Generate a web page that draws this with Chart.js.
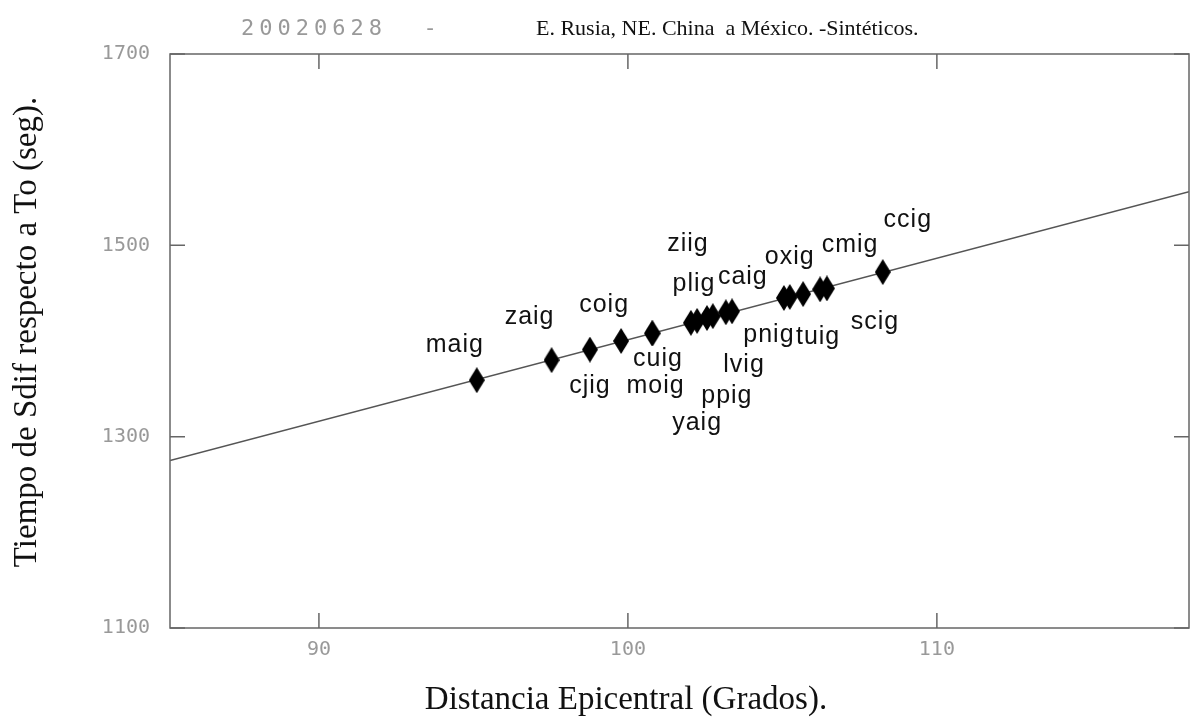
<!DOCTYPE html>
<html>
<head>
<meta charset="utf-8">
<script src="https://cdn.jsdelivr.net/npm/chart.js@4.4.1/dist/chart.umd.min.js"></script>
<style>
  html, body { margin: 0; padding: 0; background: #fff; }
  #wrap { width: 1191px; height: 721px; }
</style>
</head>
<body>
<div id="wrap"><canvas id="sdifChart" width="1191" height="721"></canvas></div>
<script>
// estaciones, distancia epicentral (grados) y tiempo Sdif (seg)
const stations = ["maig","zaig","cjig","coig","cuig","moig","ziig","yaig","plig","ppig","caig","lvig","pnig","oxig","tuig","cmig","scig","ccig"];
const distances = [95.11,97.53,98.77,99.78,100.78,100.80,102.04,102.24,102.56,102.75,103.17,103.37,105.05,105.24,105.67,106.22,106.44,108.25];
const times = [1359,1380,1391,1400,1408,1408,1419,1421,1424,1426,1430,1431,1445,1446,1449,1454,1455,1472];

// recta de ajuste
const fitDist = [85.18, 118.16];
const fitTime = [1275, 1556];

const xTicks = [90, 100, 110];
const yTicks = [1100, 1300, 1500, 1700];

// desplazamiento de cada etiqueta respecto a su punto (px)
const labelOffsets = [[-22,-35],[-22,-43],[0,36],[-17,-36],[6,26],[3,53],[-3,-79],[0,102],[-13,-34],[14,80],[17,-35],[12,54],[-15,37],[0,-40],[15,43],[30,-44],[48,34],[25,-52]];

const grayFont = '"DejaVu Sans Mono", monospace';
const serifFont = '"Liberation Serif", "Times New Roman", serif';

// rombo alargado como en el original
function makeDiamond() {
  const c = document.createElement('canvas');
  c.width = 16; c.height = 26;
  const g = c.getContext('2d');
  g.fillStyle = '#000';
  g.beginPath();
  g.moveTo(8, 0); g.lineTo(16, 13); g.lineTo(8, 26); g.lineTo(0, 13);
  g.closePath(); g.fill();
  return c;
}

const frame = {
  id: 'frame',
  afterDraw(chart) {
    const ctx = chart.ctx, a = chart.chartArea;
    const xs = chart.scales.x, ys = chart.scales.y;
    ctx.save();
    ctx.strokeStyle = '#666';
    ctx.lineWidth = 1.5;
    ctx.strokeRect(a.left, a.top, a.right - a.left, a.bottom - a.top);
    ctx.beginPath();
    xTicks.forEach(v => {
      const px = xs.getPixelForValue(v);
      ctx.moveTo(px, a.bottom); ctx.lineTo(px, a.bottom - 15);
      ctx.moveTo(px, a.top); ctx.lineTo(px, a.top + 15);
    });
    yTicks.forEach(v => {
      const py = ys.getPixelForValue(v);
      ctx.moveTo(a.left, py); ctx.lineTo(a.left + 15, py);
      ctx.moveTo(a.right, py); ctx.lineTo(a.right - 15, py);
    });
    ctx.stroke();

    // titulo en dos partes
    ctx.textBaseline = 'middle';
    ctx.textAlign = 'left';
    ctx.fillStyle = '#999';
    ctx.font = '22px ' + grayFont;
    ctx.letterSpacing = '5px';
    ctx.fillText('20020628  -', 241, 29);
    ctx.letterSpacing = '0px';
    ctx.fillStyle = '#111';
    ctx.font = '22px ' + serifFont;
    ctx.fillText('E. Rusia, NE. China  a México. -Sintéticos.', 536, 29);

    // titulos de los ejes (desplazados como en el original)
    ctx.textAlign = 'center';
    ctx.font = '33px ' + serifFont;
    ctx.fillText('Distancia Epicentral (Grados).', 626, 700);
    ctx.translate(27, 332);
    ctx.rotate(-Math.PI / 2);
    ctx.fillText('Tiempo de Sdif respecto a To (seg).', 0, 0);
    ctx.restore();
  }
};

const stationLabels = {
  id: 'stationLabels',
  afterDatasetsDraw(chart) {
    const ctx = chart.ctx;
    const xs = chart.scales.x, ys = chart.scales.y;
    ctx.save();
    ctx.font = '25px "Liberation Sans", Arial, sans-serif';
    ctx.letterSpacing = '1px';
    ctx.fillStyle = '#111';
    ctx.textAlign = 'center';
    ctx.textBaseline = 'middle';
    stations.forEach((s, i) => {
      const px = xs.getPixelForValue(distances[i]) + labelOffsets[i][0];
      const py = ys.getPixelForValue(times[i]) + labelOffsets[i][1];
      ctx.fillText(s, px, py);
    });
    ctx.restore();
  }
};

const ctx = document.getElementById('sdifChart');
const sdifChart = new Chart(ctx, {
  type: 'scatter',
  data: {
    datasets: [
      {
        label: 'ajuste',
        data: fitDist.map((d, i) => ({ x: d, y: fitTime[i] })),
        showLine: true,
        borderColor: '#555',
        borderWidth: 1.5,
        pointRadius: 0,
        order: 2
      },
      {
        label: 'estaciones',
        data: distances.map((d, i) => ({ x: d, y: times[i] })),
        pointStyle: makeDiamond(),
        pointRadius: 10,
        order: 1
      }
    ]
  },
  options: {
    responsive: false,
    animation: false,
    layout: { autoPadding: false, padding: { top: 54, right: 2, left: 0, bottom: 0 } },
    plugins: {
      legend: { display: false },
      tooltip: { enabled: false },
      title: { display: false }
    },
    scales: {
      x: {
        type: 'linear',
        min: 85.18,
        max: 118.16,
        grid: { display: false, drawTicks: false },
        border: { display: false },
        afterBuildTicks: s => { s.ticks = xTicks.map(v => ({ value: v })); },
        afterFit: s => { s.height = 93; },
        ticks: {
          color: '#999',
          font: { family: grayFont, size: 20 },
          padding: 10,
          callback: v => String(v)
        }
      },
      y: {
        type: 'linear',
        min: 1100,
        max: 1700,
        grid: { display: false, drawTicks: false },
        border: { display: false },
        afterBuildTicks: s => { s.ticks = yTicks.map(v => ({ value: v })); },
        afterFit: s => { s.width = 170; },
        ticks: {
          color: '#999',
          font: { family: grayFont, size: 20 },
          padding: 20,
          callback: v => String(v)
        }
      }
    }
  },
  plugins: [frame, stationLabels]
});
</script>
</body>
</html>
